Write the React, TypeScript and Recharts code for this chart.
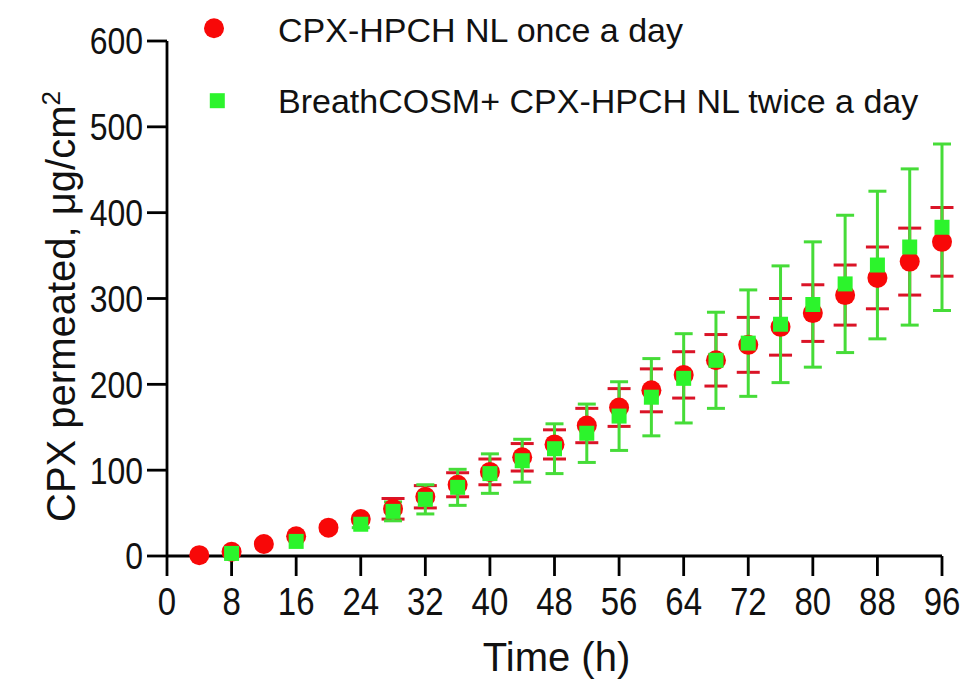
import React from 'react';
import { ScatterChart, Scatter, XAxis, YAxis, ErrorBar, Legend } from 'recharts';

// ---- data ----
const onceTimes = [4, 8, 12, 16, 20, 24, 28, 32, 36, 40, 44, 48, 52, 56, 60, 64, 68, 72, 76, 80, 84, 88, 92, 96];
const onceValues = [1, 5, 14, 23, 33, 43, 55, 69, 83, 98, 115, 130, 152, 173, 193, 211, 228, 246, 267, 283, 304, 324, 343, 366];
const onceErrors = [0, 0, 0, 0, 0, 0, 12, 13, 14, 15, 16, 17, 20, 22, 25, 27, 30, 32, 33, 33, 35, 36, 39, 40];

const twiceTimes = [8, 16, 24, 28, 32, 36, 40, 44, 48, 52, 56, 60, 64, 68, 72, 76, 80, 84, 88, 92, 96];
const twiceValues = [3, 17, 37, 52, 66, 80, 96, 111, 125, 143, 163, 185, 207, 228, 248, 270, 293, 317, 339, 360, 383];
const twiceErrors = [0, 0, 4, 11, 17, 21, 23, 25, 29, 34, 40, 45, 52, 56, 62, 68, 73, 80, 86, 91, 97];

const xTicks = [0, 8, 16, 24, 32, 40, 48, 56, 64, 72, 80, 88, 96];
const yTicks = [0, 100, 200, 300, 400, 500, 600];
const seriesNames = ['CPX-HPCH NL once a day', 'BreathCOSM+ CPX-HPCH NL twice a day'];
const xLabel = 'Time (h)';
const yLabelMain = 'CPX permeated, \u03bcg/cm';
const yLabelSup = '2';

const onceData = onceTimes.map((t, i) => ({ t, v: onceValues[i], e: onceErrors[i] }));
const twiceData = twiceTimes.map((t, i) => ({ t, v: twiceValues[i], e: twiceErrors[i] }));

// ---- styles ----
const FONT = '"Liberation Sans", Arial, Helvetica, sans-serif';
const RED = '#F80808';
const RED_BAR = '#DA1427';
const GREEN = '#2CF42C';
const GREEN_BAR = '#46DC38';
const AXIS = '#000';
const W = 963;
const H = 674;

const XTick = (props: any) => {
  const { x, y, payload } = props;
  return (
    <g transform={`translate(${x},${y + 39}) scale(1,1.18)`}>
      <text x={0} y={0} textAnchor="middle" fontSize={33} fontFamily={FONT} fill="#111">
        {payload.value}
      </text>
    </g>
  );
};

const YTick = (props: any) => {
  const { x, y, payload } = props;
  return (
    <g transform={`translate(${x},${y}) scale(1,1.18)`}>
      <text x={0} y={0} dy="0.355em" textAnchor="end" fontSize={32} fontFamily={FONT} fill="#111">
        {payload.value}
      </text>
    </g>
  );
};

const XLabel = (props: any) => {
  const vb = props.viewBox || { x: 159, y: 548, width: 775, height: 126 };
  return (
    <text x={vb.x + vb.width / 2 + 2} y={vb.y + 115} textAnchor="middle" fontSize={40} fontFamily={FONT} fill="#111">
      {xLabel}
    </text>
  );
};

const YLabel = (props: any) => {
  const vb = props.viewBox || { x: 0, y: 33, width: 159, height: 515 };
  const cx = vb.x + 67;
  const cy = vb.y + vb.height / 2 + 8;
  return (
    <text
      x={cx}
      y={cy}
      transform={`rotate(-90, ${cx}, ${cy})`}
      textAnchor="middle"
      fontSize={40}
      fontFamily={FONT}
      fill="#111"
    >
      {yLabelMain}
      <tspan dy={-15} fontSize={26}>{yLabelSup}</tspan>
    </text>
  );
};

const LegendContent = () => (
  <svg width={W} height={130} style={{ display: 'block' }}>
    <circle cx={206} cy={20.3} r={10} fill={RED} />
    <text x={270} y={33.7} fontSize={34} fontFamily={FONT} fill="#111">{seriesNames[0]}</text>
    <rect x={209.3 - 7.5} y={92.7 - 7.5} width={15} height={15} fill={GREEN} />
    <text x={270} y={105.3} fontSize={34} fontFamily={FONT} fill="#111">{seriesNames[1]}</text>
  </svg>
);

const RedDot = (p: any) => <circle cx={p.cx} cy={p.cy} r={10} fill={RED} />;
const GreenSquare = (p: any) => <rect x={p.cx - 7.5} y={p.cy - 7.5} width={15} height={15} fill={GREEN} />;

export default function App() {
  return (
    <div style={{ width: W, height: H }}>
      <ScatterChart width={W} height={H} margin={{ top: 33, right: 29, bottom: 0, left: 0 }}>
        <XAxis
          type="number"
          dataKey="t"
          domain={[0, 96]}
          ticks={xTicks}
          interval={0}
          height={126}
          tickSize={20}
          tickMargin={0}
          tick={<XTick />}
          axisLine={{ stroke: AXIS, strokeWidth: 2.8 }}
          tickLine={{ stroke: AXIS, strokeWidth: 2.8 }}
          label={<XLabel />}
        />
        <YAxis
          type="number"
          dataKey="v"
          domain={[0, 600]}
          ticks={yTicks}
          interval={0}
          width={159}
          tickSize={20}
          tickMargin={4}
          tick={<YTick />}
          axisLine={{ stroke: AXIS, strokeWidth: 2.8 }}
          tickLine={{ stroke: AXIS, strokeWidth: 2.8 }}
          label={<YLabel />}
        />
        <Legend
          layout="horizontal"
          verticalAlign="middle"
          align="center"
          content={<LegendContent />}
          wrapperStyle={{ top: 0, left: 0, width: W, height: 130 }}
        />
        <Scatter name={seriesNames[0]} data={onceData} shape={RedDot} isAnimationActive={false}>
          <ErrorBar dataKey="e" direction="y" width={11.5} stroke={RED_BAR} strokeWidth={3} isAnimationActive={false} />
        </Scatter>
        <Scatter name={seriesNames[1]} data={twiceData} shape={GreenSquare} isAnimationActive={false}>
          <ErrorBar dataKey="e" direction="y" width={9} stroke={GREEN_BAR} strokeWidth={3} isAnimationActive={false} />
        </Scatter>
      </ScatterChart>
    </div>
  );
}
